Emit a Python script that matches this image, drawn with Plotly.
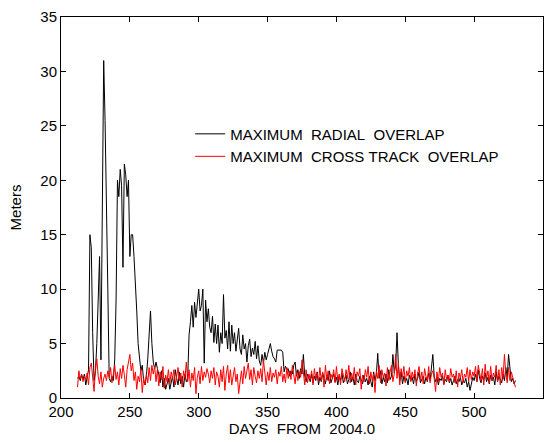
import plotly.graph_objects as go

black = [
    1.8, 2.0, 1.6, 2.1, 1.7, 2.2, 1.2, 1.9, 2.6, 15.0,
    13.8, 6.0, 1.6, 2.4, 5.0, 9.0, 13.0, 3.5, 20.0, 31.0,
    25.5, 15.0, 10.0, 1.8, 1.5, 2.0, 1.6, 3.5, 9.0, 20.0,
    18.5, 21.0, 19.5, 12.0, 21.5, 20.5, 18.5, 20.0, 13.0, 15.0,
    15.0, 13.0, 11.0, 8.0, 5.0, 3.8, 2.5, 3.0, 1.6, 1.2,
    2.0, 3.6, 6.0, 8.0, 5.0, 3.3, 2.7, 3.3, 2.7, 2.2,
    1.4, 2.5, 1.0, 1.8, 0.8, 1.2, 1.8, 0.8, 1.4, 2.0,
    1.0, 2.6, 1.8, 1.2, 2.4, 1.3, 2.0, 1.0, 2.2, 1.5,
    1.8, 5.8, 7.0, 8.5, 6.5, 8.8, 7.4, 9.0, 10.0, 8.0,
    8.5, 10.0, 3.2, 9.0, 7.0, 8.2, 6.5, 6.0, 7.5, 5.1,
    6.8, 5.0, 6.7, 4.2, 6.0, 5.0, 9.5, 5.5, 6.2, 4.5,
    7.0, 4.3, 6.7, 5.0, 6.0, 4.3, 5.5, 6.4, 4.5, 4.0,
    5.8, 4.5, 5.0, 3.3, 4.8, 5.4, 3.8, 4.6, 4.0, 5.2,
    3.6, 4.8, 3.4, 3.0, 4.0, 3.2, 4.2, 3.5, 4.0, 4.6,
    5.0, 4.3, 3.8, 3.6, 3.3, 4.4, 4.4, 4.4, 4.4, 4.2,
    2.4, 2.9, 2.6, 2.7, 2.0, 2.5, 2.2, 3.0, 3.3, 2.0,
    2.6, 1.8, 2.7, 2.2, 4.0, 2.0, 1.5, 2.2, 1.8, 1.5,
    2.2, 1.4, 2.0, 1.6, 2.4, 1.2, 1.9, 1.5, 2.3, 1.7,
    1.3, 2.1, 1.6, 2.5, 1.4, 1.8, 2.2, 1.5, 1.9, 1.2,
    2.0, 1.6, 2.3, 1.4, 1.8, 2.1, 1.3, 1.7, 2.4, 1.5,
    1.9, 1.2, 2.2, 1.6, 1.4, 2.0, 1.7, 1.3, 2.1, 1.5,
    1.8, 1.2, 2.0, 1.5, 1.0, 2.4, 1.6, 2.2, 4.1, 1.8,
    2.5, 1.3, 1.9, 1.5, 2.2, 1.4, 2.6, 1.7, 2.0, 4.0,
    2.3, 3.0, 6.0, 3.0, 1.6, 2.4, 1.3, 2.0, 1.5, 1.8,
    1.2, 2.1, 1.6, 1.9, 1.3, 2.2, 1.5, 1.8, 2.4, 1.4,
    1.7, 2.0, 1.3, 1.9, 1.5, 2.3, 1.6, 2.8, 4.0, 2.0,
    1.5, 1.9, 1.2, 1.8, 1.6, 2.0, 1.3, 1.7, 1.5, 2.1,
    1.4, 1.8, 1.2, 1.6, 2.0, 1.3, 1.7, 1.5, 1.9, 1.2,
    1.6, 1.4, 1.8, 1.0, 1.5, 0.7, 1.4, 1.9, 1.6, 2.2,
    1.5, 2.6, 1.8, 1.4, 2.0, 1.6, 2.3, 1.5, 1.9, 1.3,
    2.1, 1.6, 1.9, 1.2, 2.4, 1.5, 2.0, 1.7, 1.4, 2.2,
    1.6, 2.8, 1.9, 4.0, 2.4, 1.5, 1.8, 1.3, 1.6,
]

red = [
    1.0, 2.5, 1.8, 2.2, 1.5, 2.0, 1.7, 2.3, 1.2, 2.8,
    3.2, 1.5, 0.6, 2.6, 3.6, 2.0, 1.3, 2.4, 1.0, 1.8,
    2.2, 1.6, 2.5, 1.9, 2.8, 1.4, 2.2, 3.0, 1.7, 2.4,
    1.2, 2.7, 1.8, 3.0, 2.1, 1.0, 2.6, 3.4, 4.0, 2.5,
    3.2, 1.6, 2.4, 0.8, 2.0, 1.5, 2.7, 0.5, 1.8, 1.2,
    2.2, 1.4, 2.8, 1.6, 3.0, 2.2, 2.9, 1.5, 2.6, 1.1,
    2.4, 1.7, 2.9, 0.9, 2.1, 1.5, 2.6, 1.3, 2.4, 1.8,
    2.6, 1.2, 2.1, 2.8, 1.6, 2.3, 1.0, 2.5, 1.8, 3.3,
    1.5, 2.6, 1.0, 2.3, 1.6, 2.8, 0.4, 1.9, 2.5, 1.3,
    2.9, 1.6, 2.4, 1.9, 2.7, 2.2, 1.4, 2.5, 1.8, 2.8,
    1.2, 2.4, 2.0, 1.0, 2.6, 1.5, 2.9, 0.7, 2.2, 3.0,
    1.4, 2.6, 1.2, 2.1, 2.8, 1.5, 2.2, 0.4, 1.7, 2.5,
    1.3, 2.9, 1.8, 2.4, 3.2, 1.7, 2.6, 1.2, 2.8, 2.0,
    1.4, 2.5, 1.8, 2.7, 1.5, 3.5, 2.0, 1.2, 2.4, 1.6,
    2.8, 1.5, 2.3, 1.9, 2.6, 1.3, 2.4, 2.0, 2.9, 1.5,
    2.2, 1.4, 2.8, 1.8, 2.5, 1.7, 3.0, 2.0, 1.3, 2.5,
    1.6, 2.4, 1.9, 3.5, 2.2, 1.2, 2.6, 1.4, 2.2, 1.7,
    2.5, 1.2, 2.7, 1.8, 2.3, 1.5, 2.8, 1.6, 2.4, 1.0,
    3.0, 1.7, 2.5, 1.3, 2.2, 1.8, 2.6, 1.4, 2.9, 1.6,
    2.2, 1.2, 2.7, 2.0, 1.5, 2.6, 1.8, 3.0, 1.4, 2.3,
    1.7, 2.8, 1.2, 2.4, 2.0, 2.7, 0.8, 2.1, 1.5, 2.6,
    1.9, 2.9, 1.3, 2.4, 1.6, 2.2, 0.5, 2.5, 1.8, 3.0,
    1.4, 2.6, 1.9, 2.3, 1.1, 2.8, 1.6, 2.4, 3.0, 1.5,
    2.2, 4.0, 1.8, 3.2, 1.2, 2.7, 1.9, 2.9, 1.4, 2.5,
    2.0, 2.8, 1.5, 2.4, 1.8, 2.6, 1.1, 2.3, 2.9, 1.6,
    2.4, 1.3, 2.7, 2.0, 1.6, 2.9, 1.4, 2.2, 2.5, 1.8,
    0.6, 2.4, 1.5, 2.8, 1.9, 2.3, 1.2, 2.6, 1.7, 2.1,
    1.5, 2.7, 1.9, 2.2, 1.4, 2.5, 1.0, 2.3, 1.8, 2.6,
    1.4, 2.2, 1.9, 2.8, 1.5, 2.6, 1.7, 2.4, 2.0, 2.9,
    1.5, 3.0, 2.2, 1.6, 2.7, 1.2, 3.1, 1.8, 2.5, 1.4,
    2.9, 1.6, 2.3, 1.9, 3.0, 1.5, 2.6, 1.2, 2.8, 1.8,
    4.0, 2.2, 1.4, 2.8, 1.6, 2.4, 1.9, 1.5, 1.0,
]

start_day = 212
days_black = list(range(start_day, start_day + len(black)))
days_red = list(range(start_day, start_day + len(red)))

x_ticks = [200, 250, 300, 350, 400, 450, 500, 550]
y_ticks = [0, 5, 10, 15, 20, 25, 30, 35]

NB = "\u00a0"
name_black = f"MAXIMUM{NB}{NB}RADIAL{NB}{NB}OVERLAP"
name_red = f"MAXIMUM{NB}{NB}CROSS{NB}TRACK{NB}{NB}OVERLAP"

font_family = "Liberation Sans, Arial, sans-serif"

fig = go.Figure()
fig.add_trace(go.Scatter(x=days_black, y=black, mode="lines", name=name_black,
                         line=dict(color="#000000", width=1)))
fig.add_trace(go.Scatter(x=days_red, y=red, mode="lines", name=name_red,
                         line=dict(color="#ff0000", width=1)))

axis_common = dict(
    showline=True, linecolor="black", linewidth=1, mirror="ticks",
    ticks="inside", ticklen=5, tickcolor="black", showgrid=False, zeroline=False,
    automargin=False,
    tickfont=dict(family=font_family, size=15, color="black"),
)

fig.update_layout(
    width=555, height=443,
    margin=dict(l=61, r=12, t=17, b=45),
    paper_bgcolor="white", plot_bgcolor="white",
    font=dict(family=font_family, size=15, color="black"),
    showlegend=True,
    legend=dict(x=0.268, y=0.736, xanchor="left", yanchor="top",
                bgcolor="rgba(0,0,0,0)", borderwidth=0,
                font=dict(family=font_family, size=15, color="black"),
                tracegroupgap=0),
    xaxis=dict(range=[200, 550], tickvals=x_ticks,
               title=dict(text=f"DAYS{NB}{NB}FROM{NB}{NB}2004.0", standoff=4,
                          font=dict(family=font_family, size=15)),
               **axis_common),
    yaxis=dict(range=[0, 35], tickvals=y_ticks,
               title=dict(text="Meters", standoff=15,
                          font=dict(family=font_family, size=15)),
               **axis_common),
)

fig.write_html("out.html")
